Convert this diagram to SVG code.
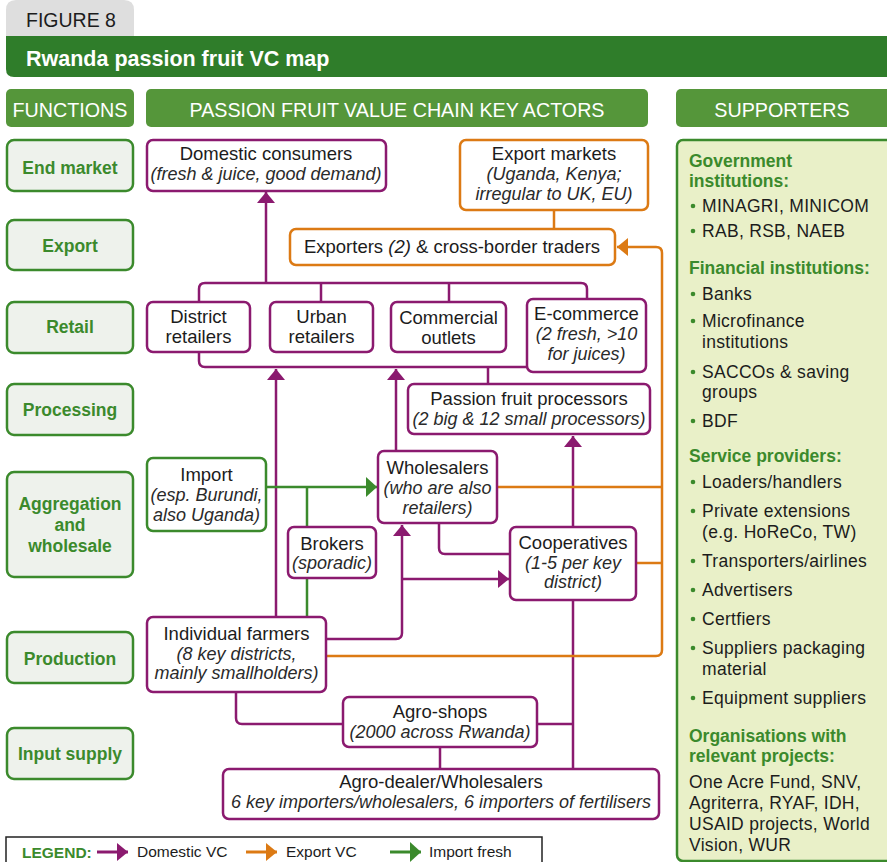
<svg xmlns="http://www.w3.org/2000/svg" width="887" height="862" viewBox="0 0 887 862">
<defs>
<style>
text{font-family:"Liberation Sans",Arial,sans-serif;fill:#1c1c1c}
.n{font-size:18.5px;text-anchor:middle}
.i{font-size:18px;font-style:italic;text-anchor:middle;fill:#2a2a2a}
.fb{fill:#eef2ec;stroke:#3b8a2c;stroke-width:2.5}
.ft{font-size:17.5px;font-weight:bold;fill:#3b8a2c;text-anchor:middle}
.hb{fill:#55963a}
.ht{font-size:19.7px;fill:#fff;text-anchor:middle}
.pb{fill:#fff;stroke:#8b1a6f;stroke-width:2.5}
.ob{fill:#fff;stroke:#dc7a14;stroke-width:2.5}
.gb{fill:#fff;stroke:#3b8a2c;stroke-width:2.5}
.pl{fill:none;stroke:#8b1a6f;stroke-width:2.5}
.ol{fill:none;stroke:#dc7a14;stroke-width:2.5}
.gl{fill:none;stroke:#3b8a2c;stroke-width:2.5}
.sh{font-size:17.5px;font-weight:bold;fill:#3b8a2c}
.si{font-size:17.5px;letter-spacing:0.3px}
.bu{fill:#3b8a2c}
.lg{font-size:15.5px}
</style>
<marker id="ap" markerUnits="userSpaceOnUse" markerWidth="12" markerHeight="18" refX="11" refY="9" orient="auto"><path d="M0,0 L11,9 L0,18 z" fill="#8b1a6f"/></marker>
<marker id="ao" markerUnits="userSpaceOnUse" markerWidth="12" markerHeight="18" refX="11" refY="9" orient="auto"><path d="M0,0 L11,9 L0,18 z" fill="#dc7a14"/></marker>
<marker id="ag" markerUnits="userSpaceOnUse" markerWidth="12" markerHeight="20" refX="11" refY="10" orient="auto"><path d="M0,0 L11,10 L0,20 z" fill="#3b8a2c"/></marker>
</defs>
<rect width="887" height="862" fill="#fff"/>

<g id="header">
<path d="M6,36 V10 Q6,0 16,0 H124 Q134,0 134,10 V36 Z" fill="#dedede"/>
<text x="26" y="27" style="font-size:19.5px">FIGURE 8</text>
<path d="M6,36 H900 V77 H14 Q6,77 6,69 Z" fill="#2f7d2a"/>
<text x="26" y="66" style="font-size:21.5px;font-weight:bold;fill:#fff">Rwanda passion fruit VC map</text>
<rect class="hb" x="6" y="89" width="128" height="38" rx="5"/>
<text class="ht" x="70" y="117">FUNCTIONS</text>
<rect class="hb" x="146" y="89" width="502" height="38" rx="5"/>
<text class="ht" x="397" y="117">PASSION FRUIT VALUE CHAIN KEY ACTORS</text>
<rect class="hb" x="676" y="89" width="230" height="38" rx="5"/>
<text class="ht" x="782" y="117">SUPPORTERS</text>
</g>

<g id="functions">
<g id="f-end"><rect class="fb" x="7" y="140" width="126" height="51" rx="7"/><text class="ft" x="70" y="174">End market</text></g>
<g id="f-export"><rect class="fb" x="7" y="220" width="126" height="50" rx="7"/><text class="ft" x="70" y="252">Export</text></g>
<g id="f-retail"><rect class="fb" x="7" y="302" width="126" height="51" rx="7"/><text class="ft" x="70" y="333">Retail</text></g>
<g id="f-processing"><rect class="fb" x="7" y="384" width="126" height="51" rx="7"/><text class="ft" x="70" y="416">Processing</text></g>
<g id="f-aggregation"><rect class="fb" x="7" y="472" width="126" height="105" rx="7"/><text class="ft" x="70" y="510">Aggregation</text><text class="ft" x="70" y="531">and</text><text class="ft" x="70" y="552">wholesale</text></g>
<g id="f-production"><rect class="fb" x="7" y="632" width="126" height="51" rx="7"/><text class="ft" x="70" y="665">Production</text></g>
<g id="f-input"><rect class="fb" x="7" y="728" width="126" height="51" rx="7"/><text class="ft" x="70" y="760">Input supply</text></g>
</g>

<g id="connectors">
<path class="pl" d="M199,302 V289 Q199,283 205,283 H581 Q587,283 587,289 V299"/>
<path class="pl" d="M321,283 V302 M449,283 V302"/>
<path class="pl" d="M266,283 V192" marker-end="url(#ap)"/>
<path class="pl" d="M199,352 V361 Q199,367 205,367 H527"/>
<path class="pl" d="M488,367 V384"/>
<path class="pl" d="M276,617 V369" marker-end="url(#ap)"/>
<path class="pl" d="M396,451 V369" marker-end="url(#ap)"/>
<path class="pl" d="M573,527 V436" marker-end="url(#ap)"/>
<path class="pl" d="M439,523 V548 Q439,554 445,554 H510"/>
<path class="pl" d="M326,639 H396 Q402,639 402,633 V525" marker-end="url(#ap)"/>
<path class="pl" d="M402,579 H509" marker-end="url(#ap)"/>
<path class="pl" d="M236,692 V718 Q236,724 242,724 H343"/>
<path class="pl" d="M537,724 H573"/>
<path class="pl" d="M573,600 V769"/>
<path class="pl" d="M440,747 V769"/>
<path class="ol" d="M554,210 V229"/>
<path class="ol" d="M326,656 H656 Q662,656 662,650 V253 Q662,247 656,247 H617" marker-end="url(#ao)"/>
<path class="ol" d="M497,487 H662"/>
<path class="ol" d="M636,563 H662"/>
<path class="gl" d="M266,487 H377" marker-end="url(#ag)"/>
<path class="gl" d="M307,487 V527 M307,578 V617"/>
</g>

<g id="n-domestic"><rect class="pb" x="147" y="140" width="239" height="51" rx="6"/><text class="n" x="266" y="160">Domestic consumers</text><text class="i" x="266" y="180">(fresh &amp; juice, good demand)</text></g>
<g id="n-exportmarkets"><rect class="ob" x="460" y="140" width="188" height="70" rx="6"/><text class="n" x="554" y="160">Export markets</text><text class="i" x="554" y="180">(Uganda, Kenya;</text><text class="i" x="554" y="200">irregular to UK, EU)</text></g>
<g id="n-exporters"><rect class="ob" x="290" y="229" width="325" height="36" rx="6"/><text class="n" x="452" y="253">Exporters <tspan style="font-style:italic">(2)</tspan> &amp; cross-border traders</text></g>
<g id="n-district"><rect class="pb" x="147" y="302" width="103" height="50" rx="6"/><text class="n" x="198.5" y="323">District</text><text class="n" x="198.5" y="343">retailers</text></g>
<g id="n-urban"><rect class="pb" x="270" y="302" width="103" height="50" rx="6"/><text class="n" x="321.5" y="323">Urban</text><text class="n" x="321.5" y="343">retailers</text></g>
<g id="n-commercial"><rect class="pb" x="391" y="302" width="115" height="50" rx="6"/><text class="n" x="448.5" y="324">Commercial</text><text class="n" x="448.5" y="344">outlets</text></g>
<g id="n-ecommerce"><rect class="pb" x="527" y="299" width="119" height="73" rx="6"/><text class="n" x="586.5" y="320">E-commerce</text><text class="i" x="586.5" y="340">(2 fresh, &gt;10</text><text class="i" x="586.5" y="360">for juices)</text></g>
<g id="n-processors"><rect class="pb" x="408" y="384" width="242" height="50" rx="6"/><text class="n" x="529" y="405">Passion fruit processors</text><text class="i" x="529" y="425">(2 big &amp; 12 small processors)</text></g>
<g id="n-import"><rect class="gb" x="147" y="458" width="119" height="73" rx="6"/><text class="n" x="206.5" y="481">Import</text><text class="i" x="206.5" y="501">(esp. Burundi,</text><text class="i" x="206.5" y="521">also Uganda)</text></g>
<g id="n-wholesalers"><rect class="pb" x="378" y="451" width="119" height="72" rx="6"/><text class="n" x="437.5" y="474">Wholesalers</text><text class="i" x="437.5" y="494">(who are also</text><text class="i" x="437.5" y="514">retailers)</text></g>
<g id="n-brokers"><rect class="pb" x="288" y="527" width="88" height="51" rx="6"/><text class="n" x="332" y="550">Brokers</text><text class="i" x="332" y="569">(sporadic)</text></g>
<g id="n-cooperatives"><rect class="pb" x="510" y="527" width="126" height="73" rx="6"/><text class="n" x="573" y="549">Cooperatives</text><text class="i" x="573" y="569">(1-5 per key</text><text class="i" x="573" y="588">district)</text></g>
<g id="n-farmers"><rect class="pb" x="147" y="617" width="179" height="75" rx="6"/><text class="n" x="236.5" y="640">Individual farmers</text><text class="i" x="236.5" y="660">(8 key districts,</text><text class="i" x="236.5" y="679">mainly smallholders)</text></g>
<g id="n-agroshops"><rect class="pb" x="343" y="697" width="194" height="50" rx="6"/><text class="n" x="440" y="718">Agro-shops</text><text class="i" x="440" y="738">(2000 across Rwanda)</text></g>
<g id="n-agrodealer"><rect class="pb" x="223" y="769" width="436" height="50" rx="6"/><text class="n" x="441" y="788">Agro-dealer/Wholesalers</text><text class="i" x="441" y="808">6 key importers/wholesalers, 6 importers of fertilisers</text></g>

<g id="supporters">
<rect x="677" y="140" width="230" height="721" rx="6" fill="#e9f0c8" stroke="#3b8a2c" stroke-width="2.5"/>
<text class="sh" x="689" y="167">Government</text>
<text class="sh" x="689" y="187">institutions:</text>
<circle class="bu" cx="693" cy="206" r="2.3"/><text class="si" x="702" y="212">MINAGRI, MINICOM</text>
<circle class="bu" cx="693" cy="231" r="2.3"/><text class="si" x="702" y="237">RAB, RSB, NAEB</text>
<text class="sh" x="689" y="274">Financial institutions:</text>
<circle class="bu" cx="693" cy="294" r="2.3"/><text class="si" x="702" y="300">Banks</text>
<circle class="bu" cx="693" cy="321" r="2.3"/><text class="si" x="702" y="327">Microfinance</text>
<text class="si" x="702" y="348">institutions</text>
<circle class="bu" cx="693" cy="372" r="2.3"/><text class="si" x="702" y="378">SACCOs &amp; saving</text>
<text class="si" x="702" y="398">groups</text>
<circle class="bu" cx="693" cy="421" r="2.3"/><text class="si" x="702" y="427">BDF</text>
<text class="sh" x="689" y="462">Service providers:</text>
<circle class="bu" cx="693" cy="482" r="2.3"/><text class="si" x="702" y="488">Loaders/handlers</text>
<circle class="bu" cx="693" cy="511" r="2.3"/><text class="si" x="702" y="517">Private extensions</text>
<text class="si" x="702" y="538">(e.g. HoReCo, TW)</text>
<circle class="bu" cx="693" cy="561" r="2.3"/><text class="si" x="702" y="567">Transporters/airlines</text>
<circle class="bu" cx="693" cy="590" r="2.3"/><text class="si" x="702" y="596">Advertisers</text>
<circle class="bu" cx="693" cy="619" r="2.3"/><text class="si" x="702" y="625">Certfiers</text>
<circle class="bu" cx="693" cy="648" r="2.3"/><text class="si" x="702" y="654">Suppliers packaging</text>
<text class="si" x="702" y="675">material</text>
<circle class="bu" cx="693" cy="698" r="2.3"/><text class="si" x="702" y="704">Equipment suppliers</text>
<text class="sh" x="689" y="742">Organisations with</text>
<text class="sh" x="689" y="762">relevant projects:</text>
<text class="si" x="689" y="788">One Acre Fund, SNV,</text>
<text class="si" x="689" y="809">Agriterra, RYAF, IDH,</text>
<text class="si" x="689" y="830">USAID projects, World</text>
<text class="si" x="689" y="851">Vision, WUR</text>
</g>

<g id="legend">
<rect x="6" y="837" width="536" height="40" fill="#fff" stroke="#222" stroke-width="1.5"/>
<text x="22" y="858" style="font-size:15.5px;font-weight:bold;fill:#3b8a2c">LEGEND:</text>
<path d="M97,852 H128" stroke="#8b1a6f" stroke-width="3" fill="none" marker-end="url(#ap)"/>
<text class="lg" x="137" y="857">Domestic VC</text>
<path d="M246,852 H277" stroke="#dc7a14" stroke-width="3" fill="none" marker-end="url(#ao)"/>
<text class="lg" x="286" y="857">Export VC</text>
<path d="M390,852 H421" stroke="#3b8a2c" stroke-width="3" fill="none" marker-end="url(#ag)"/>
<text class="lg" x="429" y="857">Import fresh</text>
</g>
</svg>
